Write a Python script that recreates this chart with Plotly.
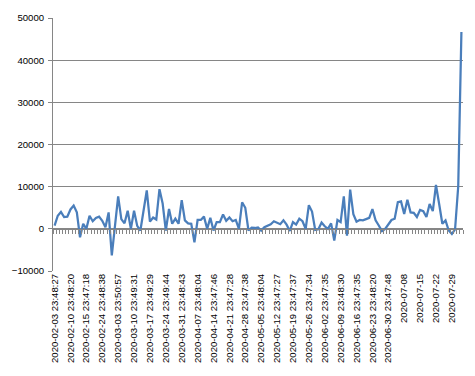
import plotly.graph_objects as go

tick_labels = [
    "2020-02-03 23:48:27", "2020-02-10 23:48:20", "2020-02-15 23:47:18", "2020-02-24 23:48:38",
    "2020-03-03 23:50:57", "2020-03-10 23:49:31", "2020-03-17 23:49:29", "2020-03-24 23:49:44",
    "2020-03-31 23:48:43", "2020-04-07 23:48:04", "2020-04-14 23:47:46", "2020-04-21 23:47:28",
    "2020-04-28 23:47:38", "2020-05-05 23:48:04", "2020-05-12 23:47:27", "2020-05-19 23:47:37",
    "2020-05-26 23:47:34", "2020-06-02 23:47:35", "2020-06-09 23:48:30", "2020-06-16 23:47:35",
    "2020-06-23 23:48:20", "2020-06-30 23:47:48", "2020-07-08", "2020-07-15", "2020-07-22", "2020-07-29",
]

values = [
    780, 3100, 4000, 2800, 2900, 4600, 5500, 3900, -2000, 1200,
    0, 3100, 1800, 2600, 2900, 1900, 400, 3900, -6300, 700,
    7700, 2300, 1300, 4300, 0, 4300, 700, -400, 4300, 9100,
    1700, 2700, 2200, 9400, 6000, -400, 4700, 1200, 2400, 1200,
    6800, 2000, 1300, 1200, -3200, 2100, 2100, 2900, 0, 2600,
    -400, 1600, 1600, 3400, 1900, 2700, 1800, 2100, 0, 6300,
    5000, -400, 300, 200, 350, -400, 400, 700, 1100, 1800,
    1500, 1100, 2000, 1000, -500, 1600, 1000, 2400, 1800, 0,
    5600, 4100, -250, -100, 1500, 600, 0, 1300, -2800, 2100,
    1600, 7700, -1600, 9300, 3500, 1700, 2100, 2000, 2300, 2600,
    4700, 2000, 800, -550, 0, 1000, 2100, 2400, 6300, 6500,
    3500, 6900, 3900, 3800, 2800, 4500, 4200, 2800, 5900, 4200,
    10400, 5900, 1200, 2000, -400, -1200, -150, 10100, 46700,
]

label_step = 5
n = len(values)
x_idx = list(range(n))
tickvals = [i * label_step for i in range(len(tick_labels))]

grid = "#868686"
font = dict(family="Liberation Sans, Arial, sans-serif", size=9.6, color="#000000")

fig = go.Figure()
fig.add_trace(go.Scatter(x=x_idx, y=values, mode="lines",
                         line=dict(color="#4A7EBB", width=2.25), showlegend=False,
                         hoverinfo="skip"))
# invisible trace to activate the category tick axis at y=0
fig.add_trace(go.Scatter(x=[0], y=[0], xaxis="x2", mode="markers",
                         marker=dict(opacity=0), showlegend=False, hoverinfo="skip"))

ymin, ymax = -10000, 50000
fig.update_layout(
    width=475, height=376,
    margin=dict(l=43, r=12, t=17, b=105),
    paper_bgcolor="white", plot_bgcolor="white",
    font=font,
    xaxis=dict(range=[-0.5, n - 0.5], tickmode="array", tickvals=tickvals, ticktext=tick_labels,
               tickangle=-90, showgrid=False, zeroline=False, showline=False, ticks="",
               tickfont=font),
    xaxis2=dict(range=[-0.5, n - 0.5], overlaying="x", anchor="free",
                position=(0 - ymin) / (ymax - ymin), side="bottom",
                tickmode="linear", tick0=-0.5, dtick=1, ticks="outside", ticklen=4,
                tickcolor=grid, tickwidth=1, showticklabels=False, showgrid=False,
                zeroline=False, showline=True, linecolor=grid, linewidth=1),
    yaxis=dict(range=[ymin, ymax], dtick=10000, tickformat="d", showgrid=True,
               gridcolor=grid, gridwidth=1,
               zeroline=False, showline=True, linecolor=grid, linewidth=1,
               ticks="outside", ticklen=4, tickcolor=grid, tickfont=font,
               ticklabelstandoff=2),
)

fig.write_html("out.html", config={"displayModeBar": False},
               post_script="document.body.style.margin='0';")
